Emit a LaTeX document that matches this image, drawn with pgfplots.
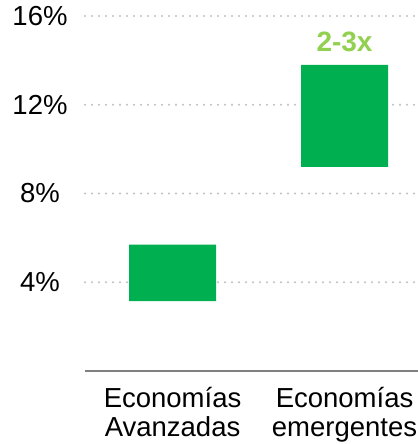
\documentclass[border=0pt]{standalone}
\usepackage{pgfplots}
\pgfplotsset{compat=1.18}
\usepackage{fontspec}
\setmainfont{Liberation Sans}
\definecolor{bargreen}{RGB}{0,176,80}
\definecolor{lightgreen}{RGB}{146,208,80}
\definecolor{gridgray}{RGB}{191,191,191}
\definecolor{axisgray}{RGB}{128,128,128}
\begin{document}
\begin{tikzpicture}
\begin{axis}[
  at={(0,0)}, anchor=south west,
  scale only axis,
  width=333bp, height=371bp,
  xmin=-0.509, xmax=1.427,
  ymin=0, ymax=16.72,
  clip=false,
  axis line style={draw=none},
  major tick length=0pt,
  ytick={4,8,12,16},
  /pgf/number format/assume math mode=true,
  yticklabel={\pgfmathprintnumber{\tick}\%},
  yticklabel style={font=\fontsize{27.5bp}{29bp}\selectfont, anchor=center, xshift=-45bp, inner sep=0pt},
  ymajorgrids,
  major grid style={gridgray, line width=2.2bp, line cap=round, dash pattern=on 0bp off 7bp},
  extra y ticks={0},
  extra y tick labels={},
  extra y tick style={major grid style={axisgray, line width=2bp, solid, line cap=butt}},
  xtick={0,1},
  xticklabels={{Economías\\Avanzadas},{Economías\\emergentes}},
  xticklabel style={font=\fontsize{27.5bp}{29bp}\selectfont, align=center, anchor=north, inner sep=0pt, yshift=-16bp},
  ybar stacked,
  bar width=87bp,
]
\addplot[draw=none, fill=none] coordinates {(0,3.15) (1,9.2)};
\addplot[draw=none, fill=bargreen] coordinates {(0,2.55) (1,4.6)};
\node[font=\fontsize{28bp}{29bp}\selectfont\bfseries, text=lightgreen] at (axis cs:1,14.83) {2-3x};
\end{axis}
\pgfresetboundingbox
\useasboundingbox (-85bp,-73bp) rectangle (333bp,371bp);
\end{tikzpicture}
\end{document}
